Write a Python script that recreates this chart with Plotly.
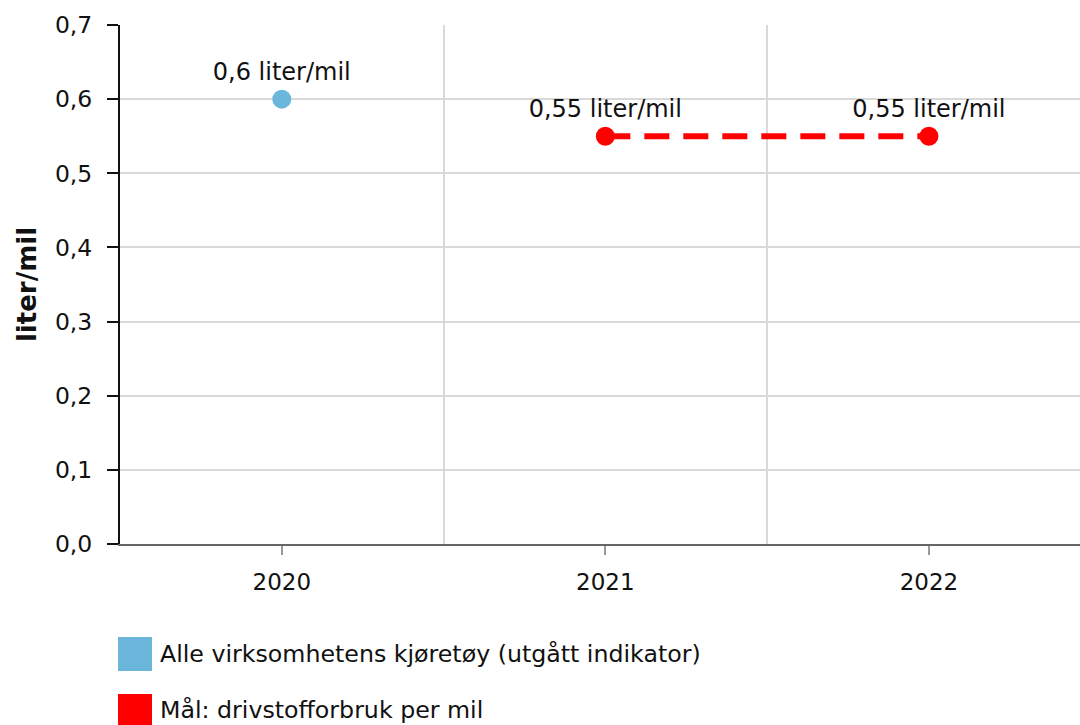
import plotly.graph_objects as go

years = ["2020", "2021", "2022"]
all_vehicles = [0.6, None, None]
target = [None, 0.55, 0.55]
series_names = ["Alle virksomhetens kjøretøy (utgått indikator)", "Mål: drivstofforbruk per mil"]
series_colors = ["#6bb7dc", "#ff0000"]
unit = "liter/mil"
y_ticks = [0, 0.1, 0.2, 0.3, 0.4, 0.5, 0.6, 0.7]

xi = list(range(len(years)))
font = "DejaVu Sans, Verdana, sans-serif"

# layout geometry (page margin removed via post_script)
L, T, B = 120, 25, 181
W, H = 1080, 725
PW = W - L
PH = H - T - B


def px_x(x):
    return (x - L) / PW


def px_y(y):
    return (H - B - y) / PH


def labels(vals):
    return [("" if v is None else f"{v:g}".replace(".", ",") + " " + unit) for v in vals]


fig = go.Figure()
fig.add_trace(go.Scatter(
    x=xi, y=all_vehicles, mode="markers+text", name=series_names[0],
    marker=dict(color=series_colors[0], size=19),
    text=labels(all_vehicles), textposition="top center",
    textfont=dict(size=24, color="#111", family=font), cliponaxis=False,
))
fig.add_trace(go.Scatter(
    x=xi, y=target, mode="lines+markers+text", name=series_names[1],
    line=dict(color=series_colors[1], width=6, dash="25px,14px"),
    marker=dict(color=series_colors[1], size=19),
    text=labels(target), textposition="top center",
    textfont=dict(size=24, color="#111", family=font), cliponaxis=False,
))

# manual legend (reference-screen pixel positions)
shapes = []
annotations = []
sw_top = [637, 694]
txt_y = [654, 710]
for nm, col, st, ty in zip(series_names, series_colors, sw_top, txt_y):
    shapes.append(dict(type="rect", xref="paper", yref="paper",
                       x0=px_x(118), x1=px_x(152),
                       y0=px_y(st + 34), y1=px_y(st),
                       fillcolor=col, line=dict(width=0), layer="above"))
    annotations.append(dict(xref="paper", yref="paper",
                            x=px_x(158), y=px_y(ty),
                            text=nm, showarrow=False, xanchor="left", yanchor="middle",
                            font=dict(size=23.7, color="#111", family=font)))

fig.update_layout(
    width=W, height=H,
    margin=dict(l=L, r=0, t=T, b=B),
    plot_bgcolor="white", paper_bgcolor="white",
    showlegend=False,
    separators=",.",
    font=dict(family=font, size=22, color="#111"),
    shapes=shapes, annotations=annotations,
    xaxis=dict(
        range=[-0.5, 2.467], tickmode="array", tickvals=xi, ticktext=years,
        showgrid=False, zeroline=False,
        showline=True, linecolor="#666", linewidth=2,
        ticks="outside", ticklen=9, tickwidth=1.5, tickcolor="#999",
        ticklabelstandoff=7,
        tickfont=dict(size=23, color="#111"),
        minor=dict(tickmode="array", tickvals=[0.5, 1.5], showgrid=True,
                   gridcolor="#d9d9d9", gridwidth=1.5, ticks=""),
    ),
    yaxis=dict(
        range=[0, 0.7], tickmode="array", tickvals=y_ticks, tickformat=".1f",
        showgrid=True, gridcolor="#d9d9d9", gridwidth=1.5, zeroline=False,
        showline=True, linecolor="#111", linewidth=2,
        ticks="outside", ticklen=11, tickwidth=2, tickcolor="#111",
        ticklabelstandoff=10,
        tickfont=dict(size=23.5, color="#111"),
        title=dict(text="<b>liter/mil</b>", font=dict(size=26, color="#111"), standoff=11),
    ),
)

fig.write_html(
    "out.html",
    config={"displayModeBar": False},
    post_script="document.body.style.margin='0';document.body.style.overflow='hidden';",
)
